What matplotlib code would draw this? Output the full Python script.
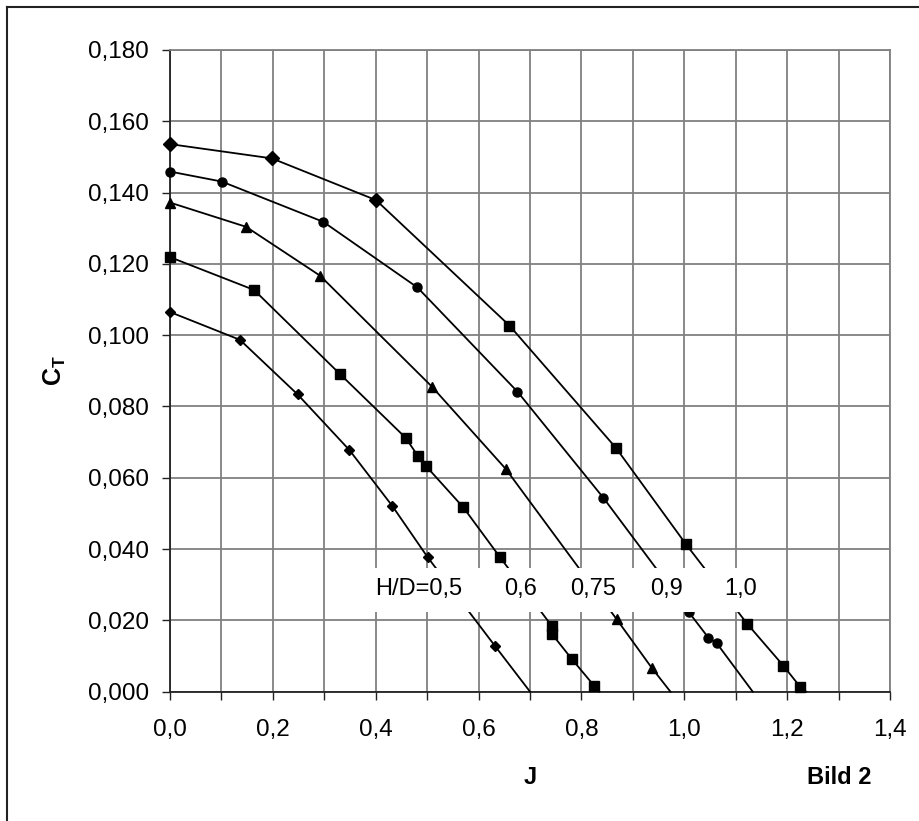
import matplotlib
matplotlib.use("Agg")
import matplotlib.pyplot as plt
from matplotlib.lines import Line2D
from matplotlib.patches import Rectangle
from matplotlib.ticker import FuncFormatter, MultipleLocator

plt.rcParams['font.family'] = ['Liberation Sans', 'DejaVu Sans']
plt.rcParams['mathtext.fontset'] = 'custom'
plt.rcParams['mathtext.rm'] = 'Liberation Sans'
plt.rcParams['mathtext.bf'] = 'Liberation Sans:bold'

# H/D = 1,0 (first three points diamonds, rest squares)
j_10 = [0.0, 0.198, 0.4005, 0.660, 0.867, 1.003, 1.1225, 1.1925, 1.225, 1.237]
ct_10 = [0.1536, 0.1496, 0.1379, 0.1027, 0.0684, 0.0414, 0.0190, 0.0073, 0.0014, 0.0]

# H/D = 0,9
j_09 = [0.0, 0.1005, 0.298, 0.481, 0.6753, 0.8425, 1.0083, 1.047, 1.063, 1.133]
ct_09 = [0.1459, 0.1431, 0.1318, 0.1134, 0.0842, 0.0544, 0.0224, 0.0151, 0.0136, 0.0]

# H/D = 0,75
j_075 = [0.0, 0.148, 0.2917, 0.509, 0.6527, 0.8685, 0.9366, 0.973]
ct_075 = [0.1372, 0.1304, 0.1167, 0.0856, 0.0625, 0.0203, 0.0067, 0.0]

# H/D = 0,6
j_06 = [0.0, 0.1633, 0.3305, 0.4583, 0.4816, 0.497, 0.5703, 0.6417, 0.742, 0.742, 0.781, 0.8244, 0.835]
ct_06 = [0.1219, 0.1127, 0.0891, 0.0712, 0.0662, 0.0634, 0.0517, 0.0377, 0.0185, 0.0163, 0.0092, 0.0017, 0.0]

# H/D = 0,5
j_05 = [0.0, 0.136, 0.248, 0.3487, 0.4322, 0.501, 0.632, 0.700]
ct_05 = [0.1065, 0.0987, 0.0834, 0.0678, 0.0521, 0.0377, 0.0128, 0.0]

label_texts = ['H/D=0,5', '0,6', '0,75', '0,9', '1,0']
label_j = [0.484, 0.681, 0.823, 0.965, 1.110]

fig = plt.figure(figsize=(9.19, 8.21), dpi=100)
ax = fig.add_axes([0.185, 0.1575, 0.7835, 0.7816])

line_kw = dict(color='black', lw=1.3, clip_on=False, zorder=3)

# lines
for j, ct in [(j_10, ct_10), (j_09, ct_09), (j_075, ct_075), (j_06, ct_06), (j_05, ct_05)]:
    ax.plot(j, ct, **line_kw)

# markers (last point of each curve is the axis crossing, no marker)
ax.plot(j_10[:3], ct_10[:3], 'D', color='black', ms=7, clip_on=False, zorder=4)
ax.plot(j_10[3:-1], ct_10[3:-1], 's', color='black', ms=7, clip_on=False, zorder=4)
ax.plot(j_09[:-1], ct_09[:-1], 'o', color='black', ms=6.5, clip_on=False, zorder=4)
ax.plot(j_075[:-1], ct_075[:-1], '^', color='black', ms=7, clip_on=False, zorder=4)
ax.plot(j_06[:-1], ct_06[:-1], 's', color='black', ms=7, clip_on=False, zorder=4)
ax.plot(j_05[:-1], ct_05[:-1], 'D', color='black', ms=5.5, clip_on=False, zorder=4)

# white band behind the curve labels
ax.add_patch(Rectangle((0.38, 0.0224), 1.176 - 0.38, 0.0347 - 0.0224,
                       facecolor='white', edgecolor='none', zorder=5))
for t, x in zip(label_texts, label_j):
    ax.text(x, 0.0271, t, ha='center', va='baseline', fontsize=17, zorder=6)

ax.set_xlim(0, 1.4)
ax.set_ylim(0, 0.18)
ax.xaxis.set_major_locator(MultipleLocator(0.2))
ax.xaxis.set_minor_locator(MultipleLocator(0.1))
ax.yaxis.set_major_locator(MultipleLocator(0.02))
ax.xaxis.set_major_formatter(FuncFormatter(lambda v, p: f'{v:.1f}'.replace('.', ',')))
ax.yaxis.set_major_formatter(FuncFormatter(lambda v, p: f'{v:.3f}'.replace('.', ',')))

grid_c = '#808080'
ax.grid(True, which='both', axis='x', color=grid_c, lw=1.3)
ax.grid(True, which='major', axis='y', color=grid_c, lw=1.3)
ax.set_axisbelow(True)

for s in ['left', 'bottom']:
    ax.spines[s].set_color('#222222')
    ax.spines[s].set_linewidth(1.3)
for s in ['top', 'right']:
    ax.spines[s].set_color(grid_c)
    ax.spines[s].set_linewidth(1.3)

ax.tick_params(axis='both', which='both', direction='out', length=6, width=1.0, color='#222222')
ax.tick_params(axis='x', labelsize=17.5, pad=14)
ax.tick_params(axis='y', labelsize=17.5, pad=9)

ax.set_xlabel('J', fontsize=17, fontweight='bold', va='center')
ax.xaxis.set_label_coords(0.5, -0.133)
ax.set_ylabel(r'$\mathbf{C_T}$', fontsize=18, va='center')
ax.yaxis.set_label_coords(-0.16, 0.5)

fig.text(839.5 / 919, 1 - 777 / 821, 'Bild 2', fontsize=17, fontweight='bold',
         ha='center', va='center')

# outer chart frame (only top and left edges are inside the picture)
fig.add_artist(Line2D([7 / 919, 1.0], [1 - 7 / 821, 1 - 7 / 821], color='#222222', lw=1.5))
fig.add_artist(Line2D([7 / 919, 7 / 919], [0.0, 1 - 7 / 821], color='#222222', lw=1.5))

fig.savefig('out.png', dpi=100)
